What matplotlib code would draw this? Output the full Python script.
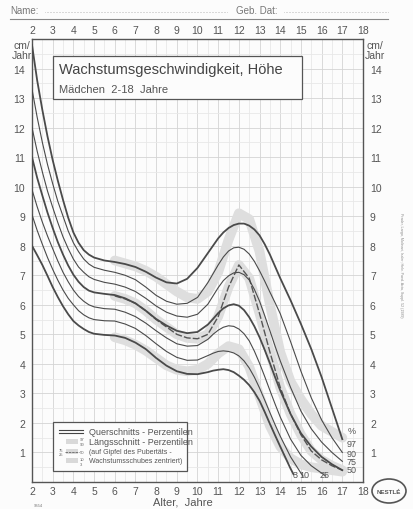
import numpy as np
import matplotlib
matplotlib.use("Agg")
import matplotlib.pyplot as plt
from matplotlib.patches import Rectangle, Ellipse

plt.rcParams['font.family'] = ['Liberation Sans', 'DejaVu Sans']

# ---------------- data ----------------
NAN = float('nan')
AGES = [2, 2.25, 2.5, 2.75, 3, 3.25, 3.5, 3.75, 4, 4.25, 4.5, 4.75, 5,
        5.5, 6, 6.5, 7, 7.5, 8, 8.5, 9, 9.5, 10, 10.5,
        10.75, 11, 11.25, 11.5, 11.75, 12, 12.25, 12.5, 12.75, 13, 13.25, 13.5, 13.75, 14,
        14.5, 15, 15.5, 16, 16.5, 17]
P97 = [14.8, 13.6, 12.6, 11.7, 10.9, 10.2, 9.55, 8.95, 8.45, 8.1, 7.85, 7.7, 7.6,
       7.5, 7.45, 7.38, 7.28, 7.12, 6.92, 6.76, 6.72, 6.88, 7.25, 7.75,
       8.0, 8.25, 8.45, 8.6, 8.7, 8.75, 8.75, 8.68, 8.55, 8.35, 8.05, 7.7, 7.3, 6.9,
       6.15, 5.35, 4.5, 3.55, 2.5, 1.45]
P90 = [13.3, 12.35, 11.5, 10.75, 10.1, 9.5, 9.0, 8.5, 8.1, 7.8, 7.55, 7.38, 7.27,
       7.17, 7.1, 7.0, 6.85, 6.6, 6.32, 6.12, 6.02, 6.05, 6.25, 6.75,
       7.05, 7.35, 7.62, 7.82, 7.93, 7.95, 7.88, 7.72, 7.47, 7.15, 6.8, 6.43, 6.07, 5.7,
       4.75, 3.75, 2.85, 2.1, 1.5, 1.0]
P75 = [12.0, 11.2, 10.5, 9.85, 9.3, 8.78, 8.3, 7.9, 7.55, 7.28, 7.1, 6.95, 6.86,
       6.76, 6.7, 6.6, 6.45, 6.22, 5.96, 5.75, 5.62, 5.58, 5.68, 6.02,
       6.3, 6.58, 6.82, 6.98, 7.08, 7.1, 7.02, 6.84, 6.52, 6.12, 5.63, 5.12, 4.6, 4.1,
       3.2, 2.4, 1.8, 1.35, 1.0, 0.7]
P50 = [11.0, 10.3, 9.7, 9.12, 8.6, 8.12, 7.7, 7.33, 7.02, 6.78, 6.6, 6.48, 6.42,
       6.37, 6.33, 6.22, 6.05, 5.8, 5.52, 5.3, 5.12, 5.04, 5.08, 5.33,
       5.52, 5.72, 5.88, 5.98, 6.02, 5.97, 5.82, 5.58, 5.27, 4.9, 4.47, 4.02, 3.55, 3.1,
       2.3, 1.65, 1.2, 0.85, 0.6, 0.4]
P25 = [9.9, 9.32, 8.8, 8.33, 7.9, 7.48, 7.1, 6.78, 6.5, 6.28, 6.12, 6.0, 5.93,
       5.87, 5.85, 5.75, 5.6, 5.38, 5.12, 4.88, 4.68, 4.6, 4.62, 4.83,
       5.0, 5.14, 5.24, 5.29, 5.27, 5.18, 5.02, 4.78, 4.43, 4.02, 3.57, 3.1, 2.64, 2.2,
       1.45, 0.9, 0.55, 0.3, NAN, NAN]
P10 = [9.05, 8.52, 8.05, 7.6, 7.2, 6.83, 6.5, 6.22, 6.0, 5.8, 5.66, 5.56, 5.5,
       5.46, 5.45, 5.35, 5.2, 4.96, 4.68, 4.42, 4.22, 4.12, 4.13, 4.28,
       4.36, 4.42, 4.44, 4.42, 4.37, 4.27, 4.1, 3.86, 3.55, 3.18, 2.77, 2.35, 1.94, 1.55,
       0.85, 0.3, NAN, NAN, NAN, NAN]
P3 = [8.0, 7.68, 7.35, 6.98, 6.6, 6.26, 5.95, 5.68, 5.45, 5.3, 5.18, 5.08, 5.02,
      4.98, 4.96, 4.88, 4.72, 4.5, 4.2, 3.94, 3.75, 3.66, 3.65, 3.72,
      3.77, 3.8, 3.82, 3.79, 3.72, 3.6, 3.46, 3.28, 3.04, 2.75, 2.37, 1.97, 1.58, 1.2,
      0.45, NAN, NAN, NAN, NAN, NAN]
PCT_NAMES = ['97', '90', '75', '50', '25', '10', '3']
PCT_END_AGE = [17.0, 17.0, 17.0, 17.0, 16.2, 15.1, 14.65]
PCT_END_VAL = [1.45, 1.0, 0.7, 0.4, 0.2, 0.2, 0.25]

# longitudinal (peak-centred) percentiles
L_AGES = [6, 6.5, 7, 7.5, 8, 8.5, 9, 9.5, 10, 10.5, 11, 11.5, 12, 12.5, 13, 13.5,
          14, 14.5, 15, 15.5, 16, 16.5, 17]
L97 = [7.5, 7.4, 7.3, 7.15, 6.95, 6.7, 6.45, 6.25, 6.2, 6.45, 7.1, 8.2, 9.1, 8.9, 7.8, 6.0,
       4.4, 3.4, 2.8, 2.3, 1.9, 1.7, 1.5]
L50 = [6.3, 6.2, 6.05, 5.8, 5.5, 5.25, 5.0, 4.88, 4.85, 5.0, 5.6, 6.6, 7.35, 6.9, 5.7, 4.4,
       3.2, 2.3, 1.6, 1.05, 0.75, 0.55, 0.4]
L3 = [4.9, 4.8, 4.65, 4.45, 4.2, 3.95, 3.8, 3.75, 3.8, 4.0, 4.35, 4.6, 4.5, 3.9, 2.9, 1.9,
      1.2, 0.8, 0.6, 0.5, 0.45, 0.4, 0.35]

X_TICKS = list(range(2, 19))
Y_TICKS = list(range(1, 15))

# ---------------- figure ----------------
W, H = 414, 510
BG = '#fcfcfc'
fig = plt.figure(figsize=(W / 100, H / 100), dpi=100, facecolor=BG)
ax = fig.add_axes([32 / W, 1 - 483 / H, (363 - 32) / W, (483 - 40) / H])
ax.set_facecolor(BG)
ax.set_xlim(2, 18)
ax.set_ylim(0, 15)

# grid
for x in np.arange(2, 18.01, 0.5):
    ax.axvline(x, color='#d4d4d4' if x % 1 == 0 else '#e8e8e8', lw=0.6, zorder=0)
for y in np.arange(0, 15.01, 0.5):
    ax.axhline(y, color='#d4d4d4' if y % 1 == 0 else '#e8e8e8', lw=0.6, zorder=0)

for s in ax.spines.values():
    s.set_color('#555555')
    s.set_linewidth(1.0)

ax.set_xticks(X_TICKS)
ax.set_yticks(Y_TICKS)
ax.tick_params(axis='both', length=0, colors='#555555', labelsize=7.5)
ax.tick_params(axis='x', top=True, labeltop=True, pad=3)
ax.tick_params(axis='y', right=True, labelright=True, pad=5)

ages = np.array(AGES)
# longitudinal bands
for L in (L97, L50, L3):
    ax.plot(L_AGES, L, color='#dedede', lw=7, solid_capstyle='round', zorder=1)
ax.plot(L_AGES, L50, color='#555555', lw=1.0, ls=(0, (5, 1.5)), zorder=3)

# cross-sectional percentiles
curves = [P97, P90, P75, P50, P25, P10, P3]
widths = [1.3, 0.8, 0.8, 1.3, 0.8, 0.8, 1.3]
for vals, lw, ea, ev in zip(curves, widths, PCT_END_AGE, PCT_END_VAL):
    v = np.array(vals, dtype=float)
    m = ~np.isnan(v)
    xs = list(ages[m])
    ys = list(v[m])
    if xs[-1] < ea:
        xs.append(ea)
        ys.append(ev)
    ax.plot(xs, ys, color='#4a4a4a', lw=lw, zorder=4, solid_joinstyle='round')

# percentile labels
lab_col = '#555555'
ax.text(17.25, 1.65, '%', fontsize=6.5, color=lab_col, zorder=6)
for name, yv in zip(['97', '90', '75', '50'], [1.3, 0.97, 0.7, 0.42]):
    ax.text(17.2, yv, name, fontsize=6.5, color=lab_col, va='center', zorder=6)
for name, xv in zip(['3', '10', '25'], [14.7, 15.15, 16.15]):
    ax.text(xv, 0.18, name, fontsize=6.5, color=lab_col, ha='center', zorder=6)

# title box
ax.add_patch(Rectangle((3.0, 12.98), 12.05, 1.44, facecolor=BG, edgecolor='#555555',
                       lw=0.9, zorder=5))
ax.text(3.3, 13.98, 'Wachstumsgeschwindigkeit, Höhe', fontsize=10.5, color='#444444',
        va='center', zorder=6)
ax.text(3.3, 13.3, 'Mädchen  2-18  Jahre', fontsize=8, color='#555555', va='center', zorder=6)

# legend box
ax.add_patch(Rectangle((3.0, 0.38), 6.5, 1.64, facecolor=BG, edgecolor='#555555',
                       lw=0.9, zorder=5))
ax.plot([3.3, 4.45], [1.75, 1.75], color='#444444', lw=0.8, zorder=6)
ax.plot([3.3, 4.45], [1.66, 1.66], color='#444444', lw=0.8, zorder=6)
ax.text(4.75, 1.7, 'Querschnitts - Perzentilen', fontsize=6.5, color='#555555', va='center', zorder=6)
ax.text(4.75, 1.36, 'Längsschnitt - Perzentilen', fontsize=6.5, color='#555555', va='center', zorder=6)
ax.text(4.75, 1.03, '(auf Gipfel des Pubertäts -', fontsize=5, color='#555555', va='center', zorder=6)
ax.text(4.75, 0.72, 'Wachstumsschubes zentriert)', fontsize=5, color='#555555', va='center', zorder=6)
for yy in (1.36, 1.03, 0.72):
    ax.add_patch(Rectangle((3.65, yy - 0.08), 0.55, 0.16, facecolor='#d9d9d9', edgecolor='none', zorder=6))
ax.plot([3.6, 4.25], [1.03, 1.03], color='#666666', lw=0.6, ls=(0, (3, 1)), zorder=7)
for t, xx, yy in [('97', 4.3, 1.44), ('90', 4.3, 1.3), ('75', 3.3, 1.1), ('50', 4.3, 1.03),
                  ('25', 3.3, 0.96), ('10', 4.3, 0.79), ('3', 4.3, 0.6)]:
    ax.text(xx, yy, t, fontsize=3, color='#666666', va='center', zorder=7)

# axis caption texts
for xp in (22, 375):
    fig.text(xp / W, 1 - 46 / H, 'cm/', fontsize=7.5, color='#555555', ha='center', va='center')
    fig.text(xp / W, 1 - 56 / H, 'Jahr', fontsize=7.5, color='#555555', ha='center', va='center')
fig.text(183 / W, 1 - 503 / H, 'Alter,  Jahre', fontsize=8, color='#555555', ha='center', va='center')
fig.text(38 / W, 1 - 506 / H, '9654', fontsize=3, color='#777777', ha='center', va='center')

# header
fig.text(10 / W, 1 - 11 / H, 'Name:', fontsize=7, color='#777777', va='center')
fig.add_artist(plt.Line2D([45 / W, 228 / W], [1 - 13 / H, 1 - 13 / H], color='#aaaaaa',
                          lw=0.6, ls=(0, (0.6, 1.2))))
fig.text(236 / W, 1 - 11 / H, 'Geb. Dat:', fontsize=7, color='#777777', va='center')
fig.add_artist(plt.Line2D([284 / W, 388 / W], [1 - 13 / H, 1 - 13 / H], color='#aaaaaa',
                          lw=0.6, ls=(0, (0.6, 1.2))))
fig.add_artist(plt.Line2D([10 / W, 388 / W], [1 - 20 / H, 1 - 20 / H], color='#888888', lw=0.8))

# side note
fig.text(401 / W, 1 - 265 / H, 'Prader, Largo, Molinari, Issler; Helv. Paed. Acta, Suppl. 52 (1989)',
         fontsize=2.6, color='#888888', rotation=270, ha='center', va='center')

# logo
fig.add_artist(Ellipse((389 / W, 1 - 492 / H), 34 / W, 24 / H, facecolor='none',
                       edgecolor='#555555', lw=1.2, transform=fig.transFigure))
fig.text(389 / W, 1 - 492 / H, 'NESTLÉ', fontsize=4.5, color='#555555', ha='center', va='center',
         fontweight='bold')

fig.savefig('out.png', dpi=100, facecolor=fig.get_facecolor())
